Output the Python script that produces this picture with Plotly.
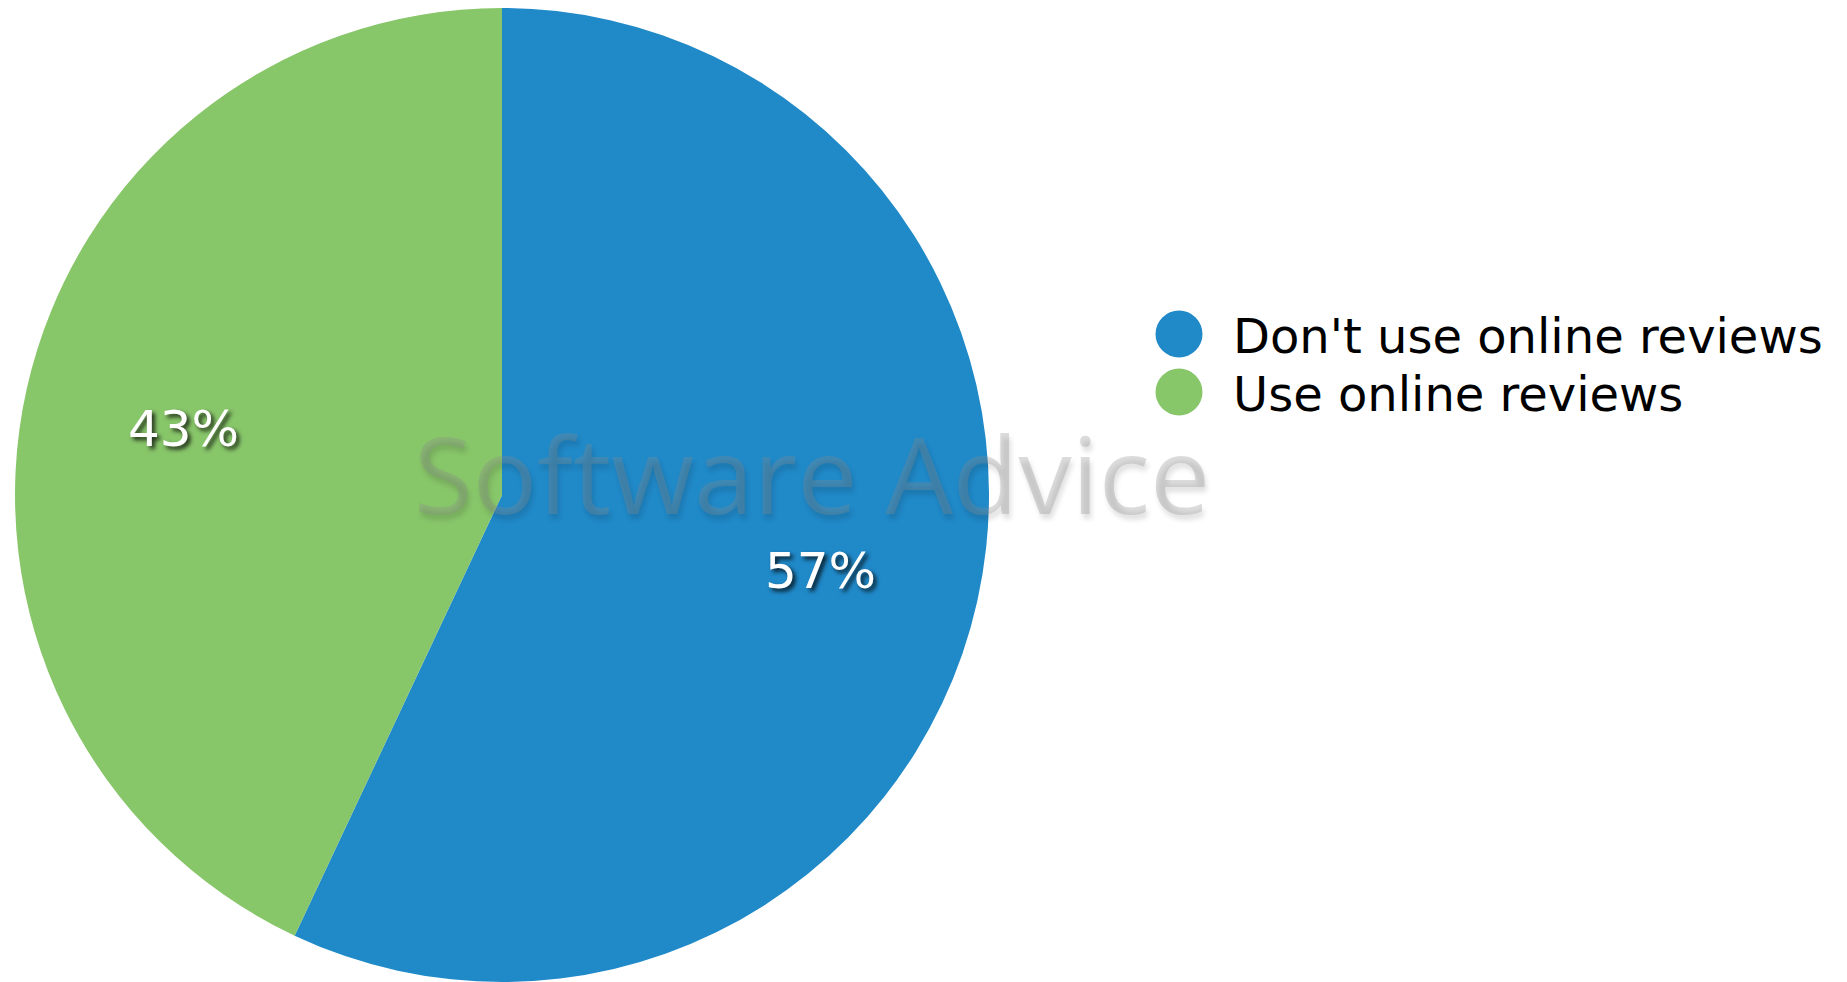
import math
import plotly.graph_objects as go

categories = ["Don't use online reviews", "Use online reviews"]
values = [57, 43]
colors = ["#2089c8", "#88c66a"]

W, H = 1847, 982
CX, CY, R = 502, 495, 487
fig = go.Figure()

fig.add_trace(go.Pie(
    labels=categories, values=values, sort=False, direction="clockwise", rotation=0,
    marker=dict(colors=colors, line=dict(width=0)),
    textinfo="none",
    showlegend=False, hoverinfo="label+percent",
    domain=dict(x=[(CX - R) / W, (CX + R) / W], y=[(H - CY - R) / H, (H - CY + R) / H]),
))

# percent labels at slice mid-angles (derived from values)
total = sum(values)
cum = 0
for v in values:
    mid = (cum + v / 2) / total * 2 * math.pi
    cum += v
    lx = CX + 0.67 * R * math.sin(mid)
    ly = CY - 0.67 * R * math.cos(mid) + 5
    fig.add_annotation(x=lx, y=ly, xref="x", yref="y", text=f"{round(v / total * 100)}%",
                       showarrow=False, xanchor="center", yanchor="middle",
                       font=dict(family="DejaVu Sans", size=50, color="white",
                                 shadow="3px 3px 4px rgba(0,0,0,0.8)"))

# legend drawn as marker trace + text
leg_x = [1179, 1179]
leg_y = [334, 392]
fig.add_trace(go.Scatter(
    x=leg_x, y=leg_y, mode="markers",
    marker=dict(size=47, color=colors, symbol="circle"),
    showlegend=False, hoverinfo="skip",
))
for cat, y in zip(categories, leg_y):
    fig.add_annotation(x=1231, y=y + 2, xref="x", yref="y", text=cat, showarrow=False,
                       xanchor="left", yanchor="middle",
                       font=dict(family="DejaVu Sans", size=48, color="black"))

# watermark
fig.add_annotation(x=812, y=472, xref="x", yref="y", text="Software Advice", showarrow=False,
                   xanchor="center", yanchor="middle",
                   font=dict(family="Open Sans", size=107, color="rgba(140,140,140,0.3)",
                             shadow="2px 5px 5px rgba(0,0,0,0.4)"))

fig.update_xaxes(range=[0, W], visible=False, domain=[0, 1], fixedrange=True)
fig.update_yaxes(range=[H, 0], visible=False, domain=[0, 1], fixedrange=True)
fig.update_layout(width=W, height=H, margin=dict(l=0, r=0, t=0, b=0),
                  paper_bgcolor="white", plot_bgcolor="rgba(0,0,0,0)")

fig.write_html("out.html")
